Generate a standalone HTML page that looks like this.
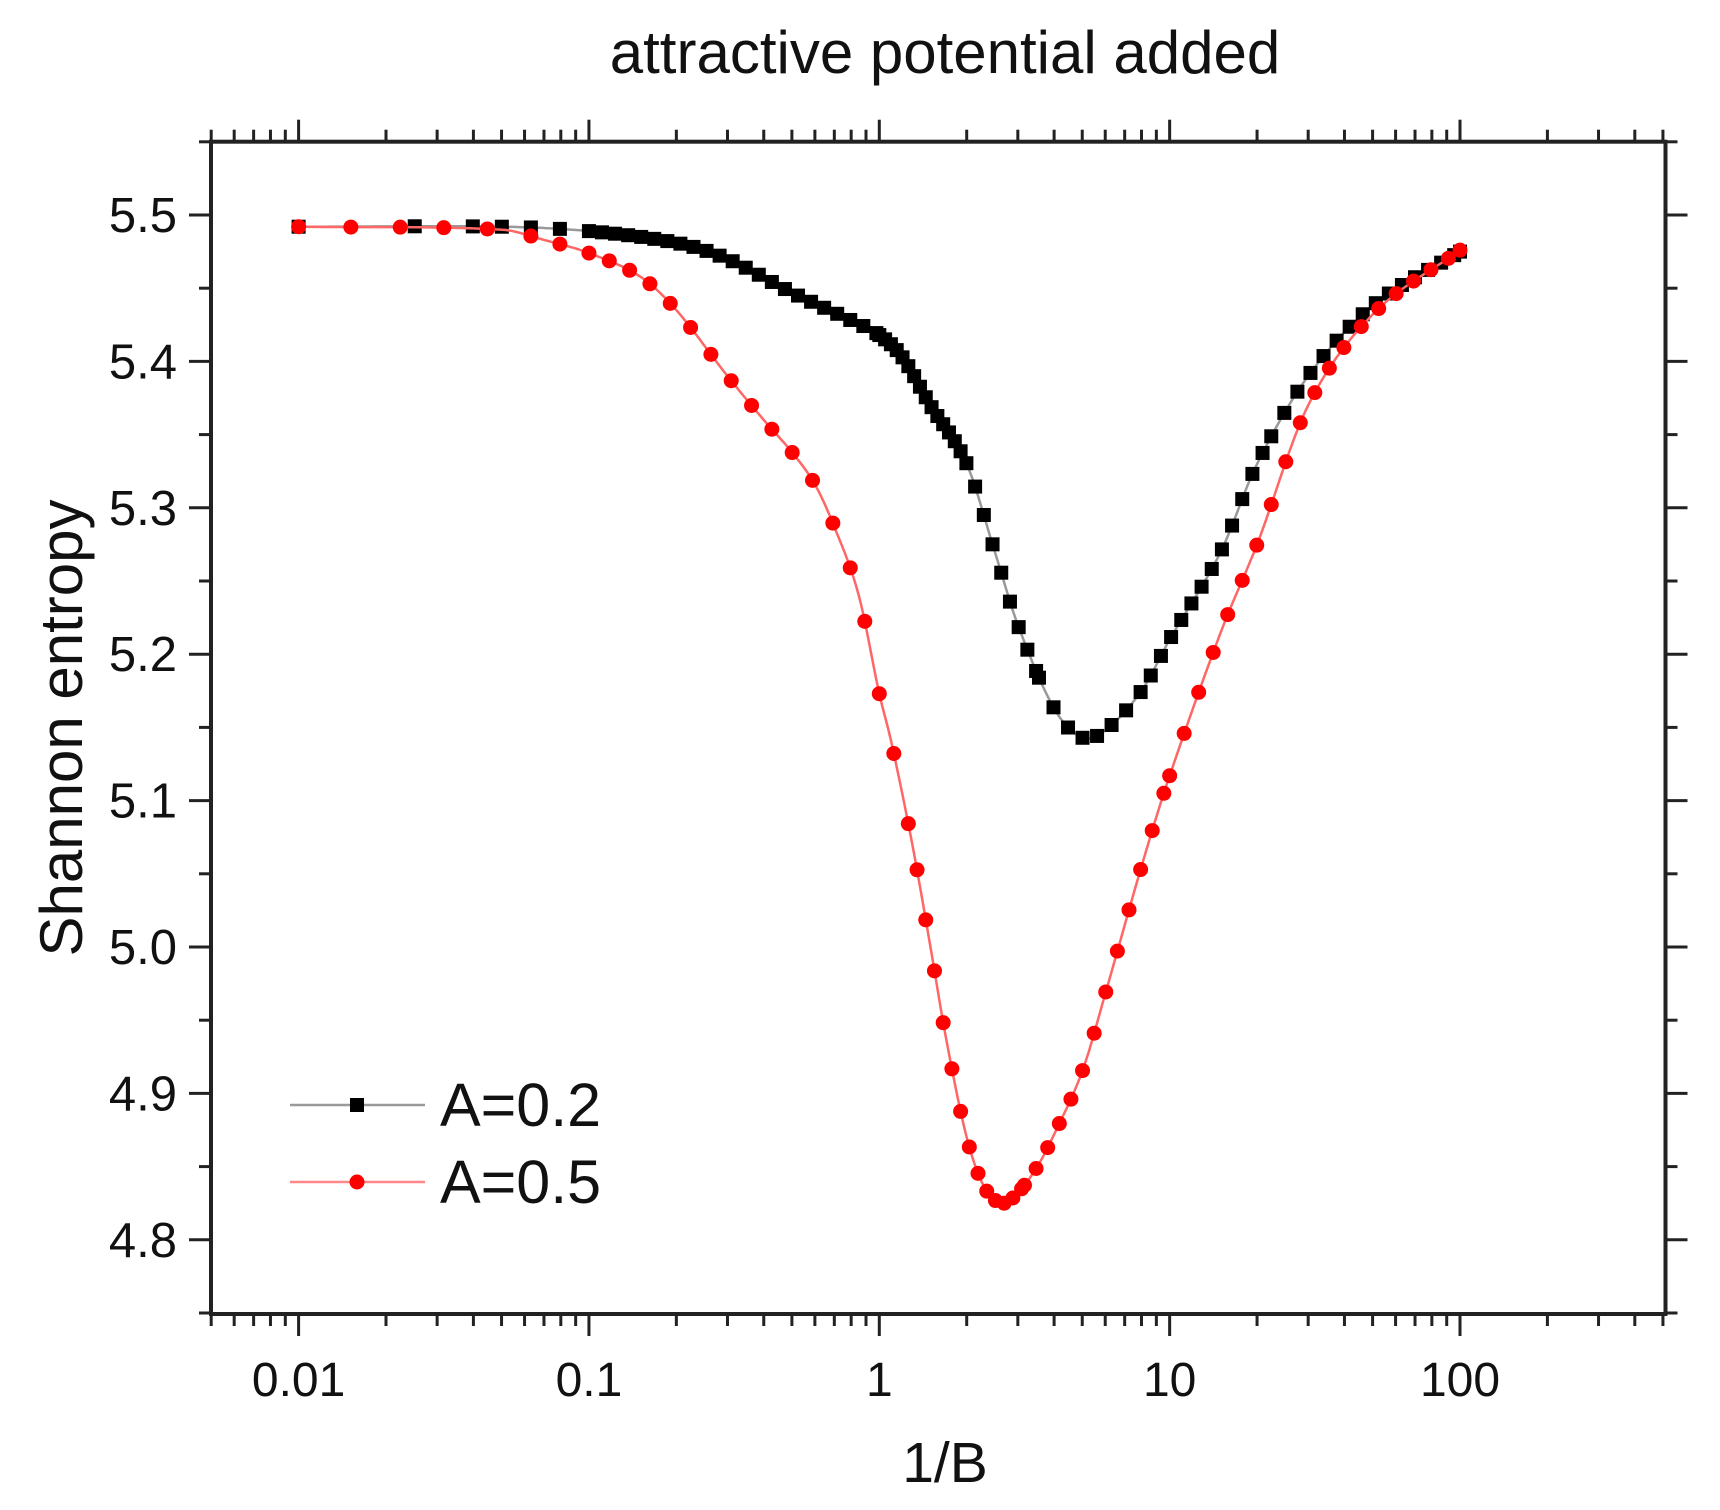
<!DOCTYPE html>
<html><head><meta charset="utf-8"><style>
html,body{margin:0;padding:0;background:#fff;}
svg{display:block;font-family:"Liberation Sans",sans-serif;}
</style></head><body>
<svg id="s" width="1720" height="1510" viewBox="0 0 1720 1510" xmlns="http://www.w3.org/2000/svg">
<rect width="1720" height="1510" fill="#fff"/>
<text x="945" y="73" font-size="60" text-anchor="middle" fill="#111">attractive potential added</text>
<text transform="translate(82,728) rotate(-90)" font-size="60" text-anchor="middle" fill="#111">Shannon entropy</text>
<text x="945" y="1482" font-size="57" text-anchor="middle" fill="#111">1/B</text>
<g id="ax"></g>
<g id="data"></g>
<g id="leg">
<line x1="290" y1="1105" x2="425" y2="1105" stroke="#999" stroke-width="2.5"/>
<rect x="350" y="1098" width="14" height="14" fill="#000"/>
<text x="440" y="1126" font-size="61" fill="#111">A=0.2</text>
<line x1="290" y1="1182" x2="425" y2="1182" stroke="#f88" stroke-width="2.5"/>
<circle cx="357" cy="1182" r="7.5" fill="#f00"/>
<text x="440" y="1203" font-size="61" fill="#111">A=0.5</text>
</g>
</svg>
<script>
var NS="http://www.w3.org/2000/svg";
var L=211,R=1665.5,T=141.7,B=1314;
function X(v){return 298.6+(Math.log10(v)+2)*290.35;}
function Xl(l){return 298.6+(l+2)*290.35;}
function Y(v){return 215+(5.5-v)*1464;}
function el(t,a,p){var e=document.createElementNS(NS,t);for(var k in a)e.setAttribute(k,a[k]);(p||document.getElementById('ax')).appendChild(e);return e;}
el('rect',{x:L,y:T,width:R-L,height:B-T,fill:'none',stroke:'#222','stroke-width':4});
for(var d=-3;d<=2;d++){for(var m=1;m<=9;m++){var v=m*Math.pow(10,d);var x=X(v);if(x<L-1||x>R+1)continue;var len=(m==1)?22:12;
el('line',{x1:x,y1:B,x2:x,y2:B+len,stroke:'#222','stroke-width':3});
el('line',{x1:x,y1:T,x2:x,y2:T-len,stroke:'#222','stroke-width':3});}}
[["0.01",0.01],["0.1",0.1],["1",1],["10",10],["100",100]].forEach(function(p){var t=el('text',{x:X(p[1]),y:1396,'font-size':48,'text-anchor':'middle',fill:'#111'});t.textContent=p[0];});
for(var i=0;i<=16;i++){var v=4.75+i*0.05;var y=Y(v);var maj=(i%2==1);var len=maj?22:12;
el('line',{x1:L,y1:y,x2:L-len,y2:y,stroke:'#222','stroke-width':3});
el('line',{x1:R,y1:y,x2:R+len,y2:y,stroke:'#222','stroke-width':3});
if(maj){var t=el('text',{x:177,y:y+17,'font-size':49,'text-anchor':'end',fill:'#111'});t.textContent=v.toFixed(1);}}
var blk=[[0.01,5.492],[0.05,5.492],[0.1,5.489],[0.2,5.481],[0.3,5.47],[0.5,5.447],[0.8,5.428],[1,5.418],[1.2,5.403],[1.5,5.37],[2,5.33],[2.5,5.27],[3,5.22],[4,5.163],[5,5.143],[6,5.148],[8,5.175],[10,5.21],[15,5.27],[20,5.33],[30,5.39],[50,5.438],[100,5.475]];
var red=[[0.01,5.492],[0.05,5.49],[0.07,5.483],[0.1,5.474],[0.15,5.458],[0.2,5.435],[0.3,5.39],[0.4,5.36],[0.5,5.338],[0.6,5.316],[0.7,5.287],[0.85,5.24],[1,5.173],[1.1,5.14],[1.3,5.07],[1.5,5.0],[1.7,4.937],[2,4.87],[2.3,4.836],[2.65,4.825],[3,4.832],[3.5,4.85],[4,4.872],[5,4.915],[6,4.968],[8,5.055],[10,5.117],[15,5.215],[20,5.275],[30,5.37],[50,5.432],[100,5.476]];
function interp(pts,l){var P=pts.map(function(p){return[Math.log10(p[0]),p[1]];});
if(l<=P[0][0])return P[0][1];if(l>=P[P.length-1][0])return P[P.length-1][1];
for(var i=0;i<P.length-1;i++){if(l<=P[i+1][0]){var p0=P[Math.max(0,i-1)],p1=P[i],p2=P[i+1],p3=P[Math.min(P.length-1,i+2)];
var h=p2[0]-p1[0],t=(l-p1[0])/h;
var m1=(p2[1]-p0[1])/(p2[0]-p0[0]||1)*h,m2=(p3[1]-p1[1])/(p3[0]-p1[0]||1)*h;
if(i==0)m1=(p2[1]-p1[1]);if(i+2>=P.length)m2=(p2[1]-p1[1]);
var t2=t*t,t3=t2*t;return (2*t3-3*t2+1)*p1[1]+(t3-2*t2+t)*m1+(-2*t3+3*t2)*p2[1]+(t3-t2)*m2;}}}
var dg=document.getElementById('data');
function marks(){var a=[];for(var i=0;i<arguments.length;i+=3){for(var l=arguments[i];l<arguments[i+1]-1e-9;l+=arguments[i+2])a.push(l);}a.push(2);return a;}
var bl=[-2,-1.6,-1.4,-1.3,-1.2,-1.1].concat(marks(-1,0,0.045,0,0.3,0.02,0.3,0.55,0.03,0.55,0.9,0.05,0.9,1.35,0.035,1.35,2,0.045));
var rl=[-2,-1.82,-1.65,-1.5,-1.35,-1.2,-1.1].concat(marks(-1,-0.1,0.07,-0.1,0.1,0.05,0.1,0.5,0.03,0.5,1.0,0.04,1.0,1.6,0.05,1.6,2,0.06));
function line(pts,col){var d='';for(var l=-2;l<=2.0001;l+=0.01){d+=(d?'L':'M')+Xl(l).toFixed(1)+','+Y(interp(pts,l)).toFixed(1);}el('path',{d:d,fill:'none',stroke:col,'stroke-width':2.5},dg);}
line(blk,'#999');
bl.forEach(function(l){var x=Xl(l),y=Y(interp(blk,l));el('rect',{x:x-7,y:y-7,width:14,height:14,fill:'#000'},dg);});
line(red,'#f66');
rl.forEach(function(l){var x=Xl(l),y=Y(interp(red,l));el('circle',{cx:x,cy:y,r:7.5,fill:'#f00'},dg);});
</script>
</body></html>
